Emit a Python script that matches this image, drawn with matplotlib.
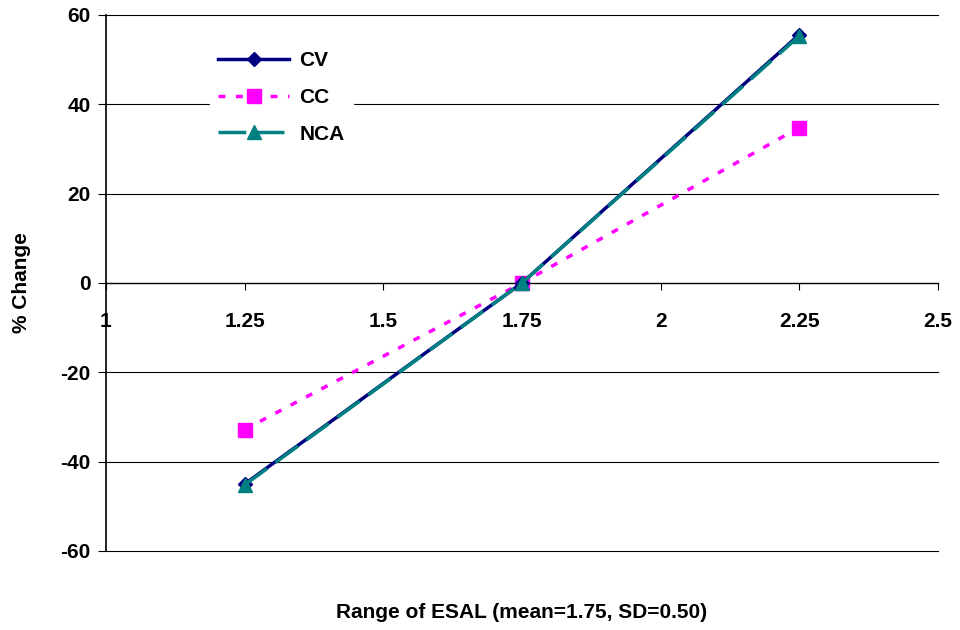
import matplotlib.pyplot as plt

plt.rcParams['font.family'] = ['Liberation Sans', 'DejaVu Sans']
plt.rcParams['font.weight'] = 'bold'
plt.rcParams['axes.unicode_minus'] = False

# --- data ---
esal = [1.25, 1.75, 2.25]
cv = [-45.0, 0.0, 55.6]
cc = [-32.8, 0.0, 34.8]
nca = [-45.2, 0.0, 55.3]

x_ticks = [1, 1.25, 1.5, 1.75, 2, 2.25, 2.5]
x_labels = ["1", "1.25", "1.5", "1.75", "2", "2.25", "2.5"]
y_ticks = [-60, -40, -20, 0, 20, 40, 60]

fig = plt.figure(figsize=(9.6, 6.3), dpi=100)
ax = fig.add_axes([0.1104, 0.1254, 0.8666, 0.8508])

ax.plot(esal, cv, color='#000080', lw=2.5, marker='D', ms=7, label='CV', zorder=3)
ax.plot(esal, cc, color='#FF00FF', lw=2.5, ls=(0, (2, 3)), marker='s', ms=10,
        label='CC', zorder=2)
ax.plot(esal, nca, color='#008080', lw=2.5, ls=(0, (8, 3)), marker='^', ms=10,
        label='NCA', zorder=4)

ax.set_xlim(1, 2.5)
ax.set_ylim(-60, 60)
ax.set_xticks(x_ticks)
ax.set_xticklabels(x_labels)
ax.set_yticks(y_ticks)

for y in y_ticks:
    if y != 0:
        ax.axhline(y, color='black', lw=0.8, zorder=1, clip_on=False)

ax.spines['bottom'].set_position(('data', 0))
ax.spines['top'].set_visible(False)
ax.spines['right'].set_visible(False)
ax.spines['left'].set_linewidth(1.2)
ax.spines['bottom'].set_linewidth(1.0)

ax.tick_params(axis='x', direction='out', length=5, pad=16, labelsize=15,
               bottom=True, top=False)
ax.tick_params(axis='y', direction='out', length=6, pad=5, labelsize=15)
for lab in ax.get_xticklabels() + ax.get_yticklabels():
    lab.set_fontweight('bold')

ax.set_xlabel("Range of ESAL (mean=1.75, SD=0.50)", fontsize=15,
              fontweight='bold', labelpad=0)
ax.xaxis.set_label_coords(0.5, -0.097)
ax.set_ylabel("% Change", fontsize=15, fontweight='bold')
ax.yaxis.set_label_coords(-0.09, 0.5)

leg = ax.legend(loc='upper left', bbox_to_anchor=(0.125, 0.948), frameon=True,
                fancybox=False, edgecolor='white', framealpha=1,
                handlelength=3.4, handletextpad=0.5, labelspacing=0.85,
                borderaxespad=0, prop={'size': 15, 'weight': 'bold'})

fig.savefig('out.png', dpi=100)
